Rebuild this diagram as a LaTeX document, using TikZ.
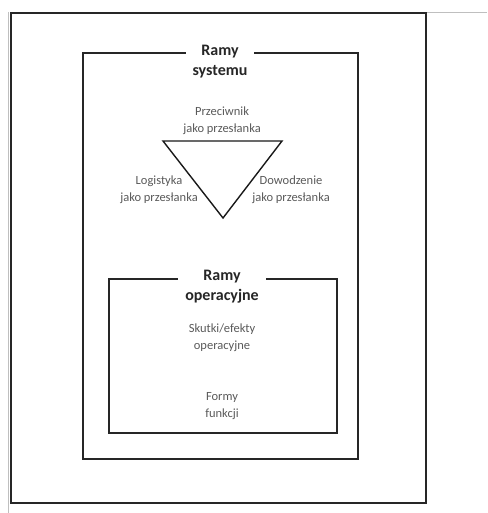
\documentclass[tikz,border=0pt]{standalone}
\usepackage{fontspec}
\setmainfont{Carlito}
\begin{document}
\begin{tikzpicture}[x=1pt,y=-1pt,
  frame/.style={draw=black!85, line width=1.8pt},
  title/.style={fill=white, align=center, font=\fontsize{16}{20}\selectfont\bfseries, text=black!85, inner xsep=7pt, inner ysep=1pt},
  label/.style={align=center, font=\fontsize{12.5}{17}\selectfont, text=black!65}]
\useasboundingbox (0,0) rectangle (487,513);
% screenshot edges
\draw[black!25, line width=0.8pt] (8,12) -- (8,513);
\draw[black!25, line width=0.8pt] (426,12) -- (487,12);
% outer frame
\draw[frame] (11,13) rectangle (426,503);
% Ramy systemu
\draw[frame] (83,53) rectangle (358,459);
\node[title] (system) at (220,62) {Ramy\\systemu};
\node[label] (enemy) at (222,121) {Przeciwnik\\jako przesłanka};
\coordinate (tl) at (163,141);
\coordinate (tr) at (282,141);
\coordinate (tb) at (223,218);
\draw[black!90, line width=1.4pt, line join=miter] (tl) -- (tr) -- (tb) -- cycle;
\node[label] (logistics) at (159,190) {Logistyka\\jako przesłanka};
\node[label] (command) at (291,190) {Dowodzenie\\jako przesłanka};
% Ramy operacyjne
\draw[frame] (109,279) rectangle (337,433);
\node[title] (operations) at (222,287) {Ramy\\operacyjne};
\node[label] (effects) at (222,338) {Skutki/efekty\\operacyjne};
\node[label] (forms) at (222,406) {Formy\\funkcji};
\end{tikzpicture}
\end{document}
